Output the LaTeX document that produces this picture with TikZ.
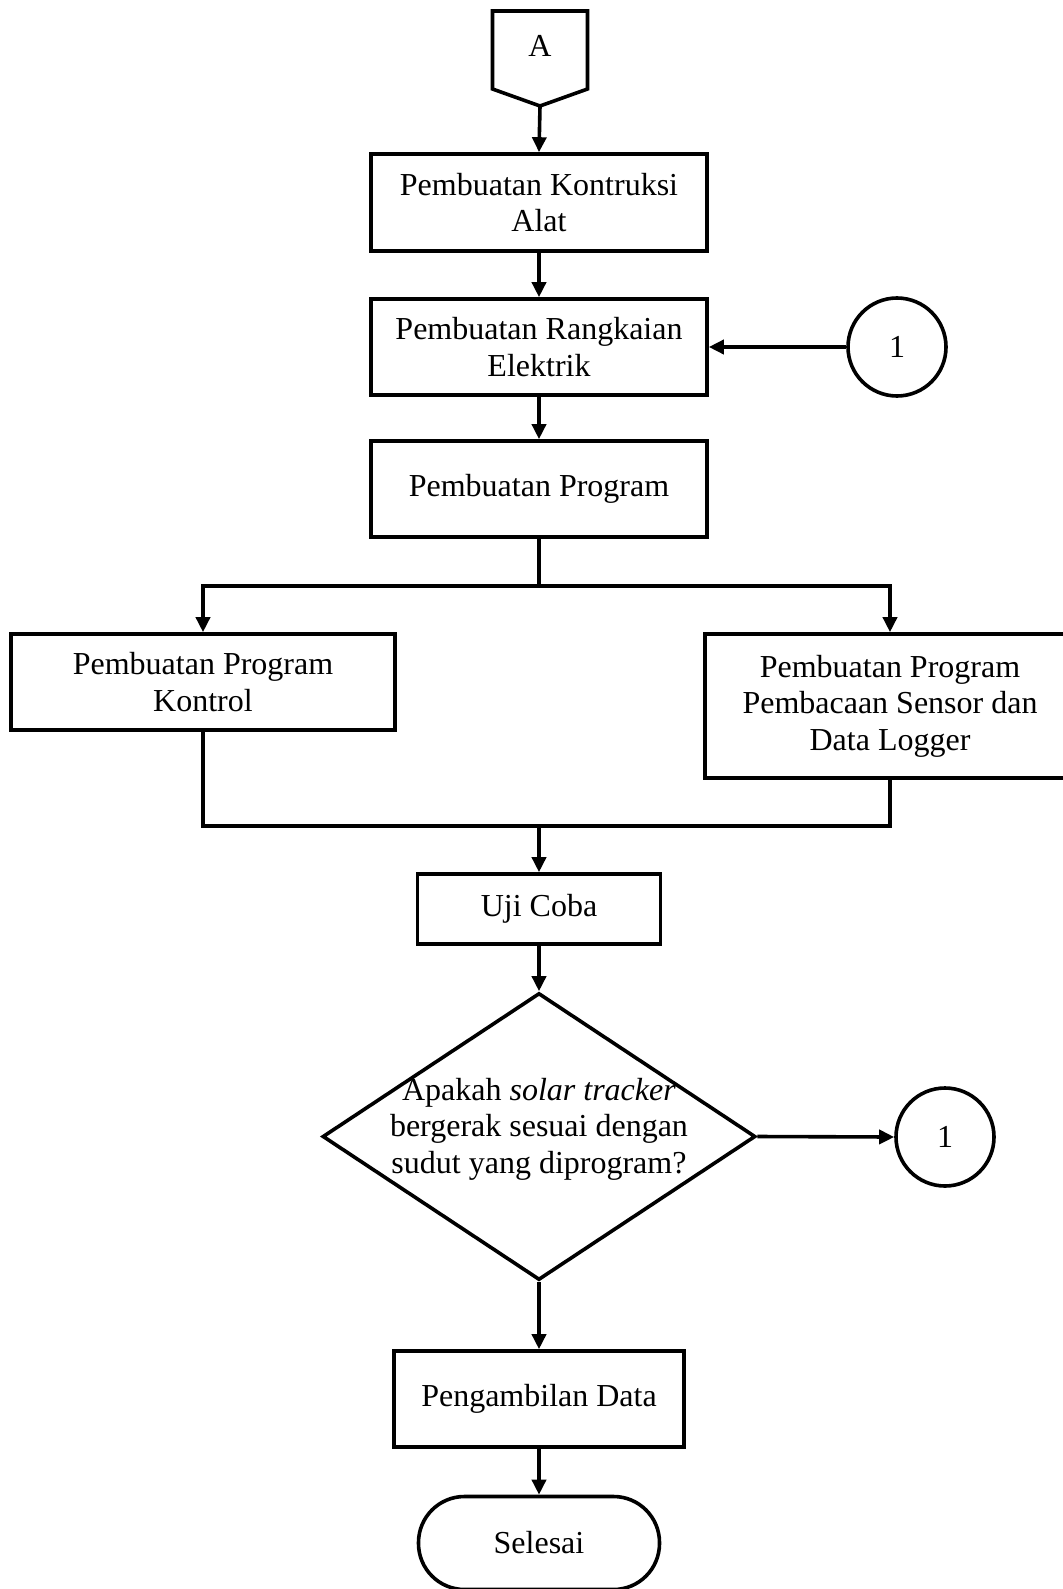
\documentclass[tikz,border=0pt]{standalone}
\usepackage{fontspec}
\setmainfont{Liberation Serif}
\usetikzlibrary{arrows.meta,shapes.geometric}
\begin{document}
\begin{tikzpicture}[x=0.5pt,y=-0.5pt, line width=1.8pt,
  >={Triangle[length=7.5pt,width=7pt]},
  font=\fontsize{16}{18.3}\selectfont,
  proc/.style={draw, rectangle, inner sep=0pt, align=center},
  conn/.style={draw, circle, inner sep=0pt, minimum size=49pt},
  arr/.style={->}]
\useasboundingbox (0,0) rectangle (1062,1589);
% off-page connector A
\draw (492.5,11) -- (587.5,11) -- (587.5,89) -- (540,106) -- (492.5,89) -- cycle;
\node (A) at (540,46) {A};
\coordinate (Abot) at (540,106);
% process boxes
\node[proc, minimum width=168pt, minimum height=48.5pt] (b1) at (539,202.5) {Pembuatan Kontruksi\\Alat};
\node[proc, minimum width=168pt, minimum height=48pt] (b2) at (539,347) {Pembuatan Rangkaian\\Elektrik};
\node[proc, minimum width=168pt, minimum height=48pt] (b3) at (539,489) {Pembuatan Program};
\node[conn] (c1) at (897,347) {1};
\node[proc, minimum width=192pt, minimum height=48pt] (b4) at (203,682) {Pembuatan Program\\Kontrol};
\node[proc, minimum width=185pt, minimum height=72pt] (b5) at (890,706) {Pembuatan Program\\Pembacaan Sensor dan\\Data Logger};
\node[proc, minimum width=121.5pt, minimum height=35pt] (uji) at (539,909) {Uji Coba};
\node[draw, diamond, inner sep=0pt, minimum width=216.5pt, minimum height=143.5pt] (dec) at (539,1136.5) {};
\node[align=center, inner sep=0pt] (dectext) at (539,1129) {Apakah \textit{solar tracker}\\bergerak sesuai dengan\\sudut yang diprogram?};
\node[conn] (c2) at (945,1137) {1};
\node[proc, minimum width=145pt, minimum height=48pt] (pd) at (539,1399) {Pengambilan Data};
\node[draw, rectangle, rounded corners=23pt, inner sep=0pt, minimum width=120.5pt, minimum height=46.5pt] (sel) at (539,1543) {Selesai};
% connectors
\draw[arr] (Abot) -- (b1.north);
\draw[arr] (b1) -- (b2);
\draw[arr] (c1.west) -- (b2.east);
\draw[arr] (b2) -- (b3);
\coordinate (split) at (539,586);
\coordinate (merge) at (539,826);
\draw (b3.south) -- (split);
\draw[arr] (split) -| (b4.north);
\draw[arr] (split) -| (b5.north);
\draw (b4.south) |- (merge);
\draw (b5.south) |- (merge);
\draw[arr] (merge) -- (uji.north);
\draw[arr] (uji) -- (dec.north);
\draw[arr] (dec.east) -- (c2.west);
\draw[arr] (dec.south) -- (pd.north);
\draw[arr] (pd) -- (sel);
\end{tikzpicture}
\end{document}
